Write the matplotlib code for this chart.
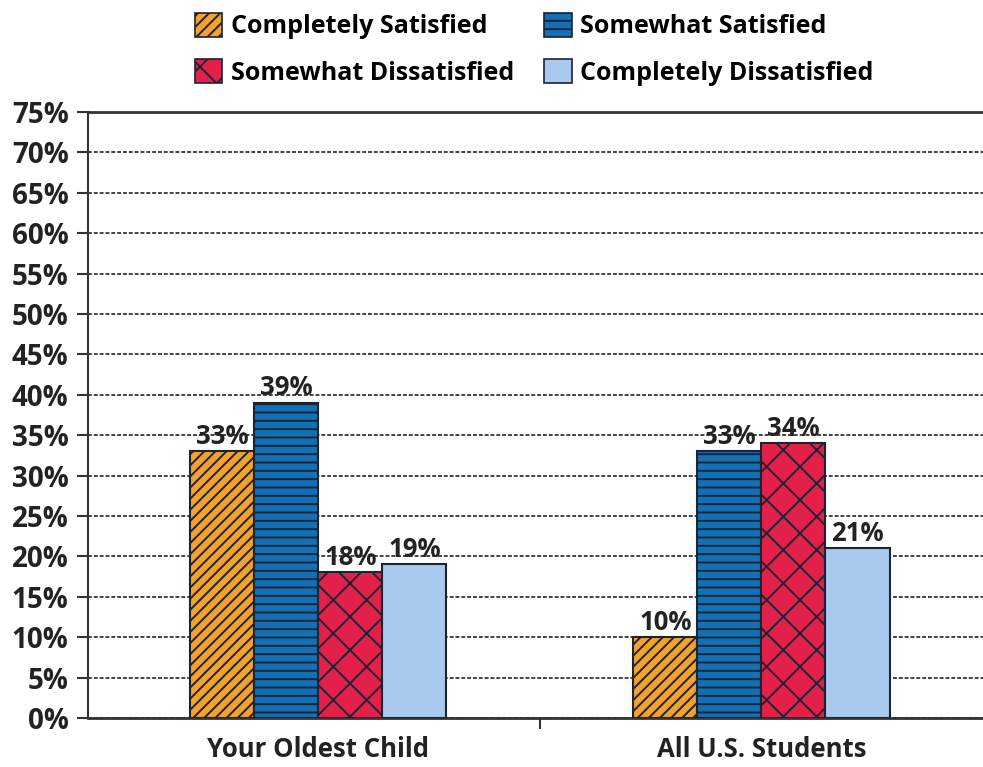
import matplotlib
matplotlib.use("Agg")
import matplotlib.pyplot as plt
import numpy as np
from matplotlib.patches import Patch

categories = ["Your Oldest Child", "All U.S. Students"]
series_names = ["Completely Satisfied", "Somewhat Satisfied",
                "Somewhat Dissatisfied", "Completely Dissatisfied"]
completely_satisfied = [33, 10]
somewhat_satisfied = [39, 33]
somewhat_dissatisfied = [18, 34]
completely_dissatisfied = [19, 21]
yticks = list(range(0, 80, 5))

values = [completely_satisfied, somewhat_satisfied, somewhat_dissatisfied, completely_dissatisfied]
colors = ["#F4A22D", "#1271B6", "#E3204A", "#A9CAEE"]
hatches = ["///", "--", "x", ""]
edge = "#1b2433"
txtc = "#222222"

plt.rcParams['font.family'] = ['Open Sans', 'DejaVu Sans']
plt.rcParams['hatch.linewidth'] = 1.4

fig = plt.figure(figsize=(9.83, 7.67), dpi=100)
ax = fig.add_axes([0.0895, 0.064, 0.9105, 0.79])

x = np.arange(len(categories))
w = 0.1445
offsets = (np.arange(4) - 1.5) * w
for i in range(4):
    bars = ax.bar(x + offsets[i], values[i], w, color=colors[i], edgecolor=edge,
                  hatch=hatches[i], linewidth=1.5, zorder=3)
    for b, v in zip(bars, values[i]):
        ax.text(b.get_x() + b.get_width() / 2, v + 0.2, f"{v}%", ha='center', va='bottom',
                fontsize=18.5, fontweight='bold', color=txtc, zorder=4)

ax.set_xlim(-0.52, 1.5)
ax.set_ylim(0, 75)
ax.set_yticks(yticks)
ax.set_yticklabels([f"{t}%" for t in yticks], fontsize=20, fontweight='bold', color=txtc)
ax.set_xticks([0.5])
ax.set_xticklabels([""])
ax.tick_params(axis='x', length=8, width=1.5, color='#333333')
ax.tick_params(axis='y', length=8, width=1.5, color='#333333', pad=6)
for c, lab in zip(x, categories):
    ax.text(c, -2.2, lab, ha='center', va='top', fontsize=18.5, fontweight='bold',
            color=txtc, transform=ax.transData)

ax.yaxis.grid(True, color='#444444', linestyle=(0, (2, 1)), linewidth=1.4, zorder=0)
ax.set_axisbelow(True)
ax.spines['right'].set_visible(False)
for s in ['top', 'left', 'bottom']:
    ax.spines[s].set_color('#333333')
ax.spines['top'].set_linewidth(2)
ax.spines['left'].set_linewidth(1.5)
ax.spines['bottom'].set_linewidth(2)

handles = [Patch(facecolor=colors[i], edgecolor=edge, hatch=hatches[i], linewidth=1.2)
           for i in range(4)]
order = [0, 2, 1, 3]
fig.legend([handles[i] for i in order], [series_names[i] for i in order],
           loc='upper left', bbox_to_anchor=(0.175, 1.013), ncol=2,
           frameon=False, prop={'size': 18, 'weight': 'bold'},
           handlelength=1.1, handleheight=1.1, columnspacing=1.2, handletextpad=0.35,
           labelspacing=0.8)

fig.savefig("out.png", dpi=100)
